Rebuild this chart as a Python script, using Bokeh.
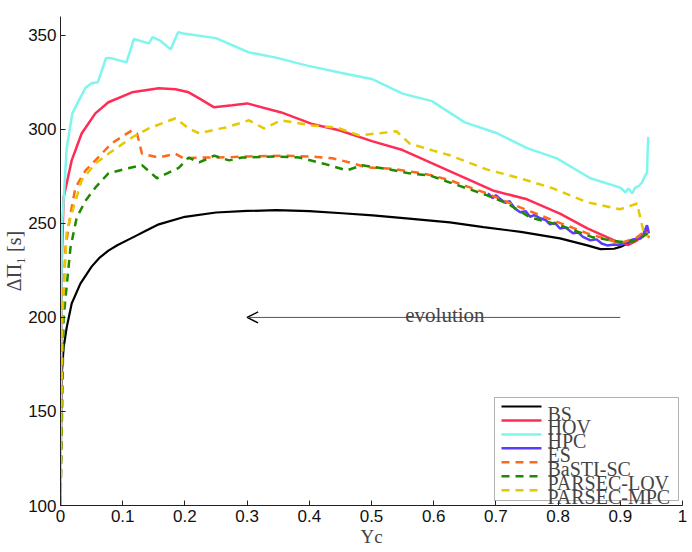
from bokeh.plotting import figure
from bokeh.models import Range1d, FixedTicker, Arrow, OpenHead, Label, BoxAnnotation
from bokeh.embed import file_html
from bokeh.resources import INLINE

# ---------------- data ----------------
bs_x = [0.0, 0.0016, 0.005, 0.010, 0.018, 0.032, 0.050, 0.062, 0.077, 0.092, 0.110, 0.122, 0.134,
        0.158, 0.200, 0.250, 0.300, 0.347, 0.400, 0.453, 0.502, 0.556, 0.626, 0.680, 0.740, 0.803,
        0.847, 0.868, 0.890, 0.900, 0.910, 0.918]
bs_y = [100, 168, 184, 194.7, 207.4, 218, 227, 231.5, 235.5, 238.5, 241.5, 243.5, 245.5,
        249.5, 253.5, 255.8, 256.6, 257, 256.5, 255.4, 254.3, 252.7, 250.5, 248, 245.5, 242,
        238.3, 236.3, 236.5, 237.5, 239, 241]

hov_x = [0.0, 0.002, 0.005, 0.018, 0.034, 0.056, 0.077, 0.115, 0.158, 0.185, 0.206, 0.223, 0.247,
         0.276, 0.300, 0.355, 0.403, 0.448, 0.502, 0.550, 0.577, 0.631, 0.695, 0.750, 0.803, 0.847,
         0.900, 0.913, 0.927, 0.937, 0.944]
hov_y = [100, 230, 263.8, 283.5, 297.8, 308.5, 314.4, 319.7, 321.8, 321.3, 319.7, 316.5, 311.7,
         312.8, 313.8, 309, 303, 299.5, 293.6, 289, 285, 277, 267.5, 262.8, 255.2, 247.3,
         239.5, 238.5, 241, 244, 247]

hpc_x = [0.0, 0.002, 0.010, 0.019, 0.029, 0.040, 0.050, 0.060, 0.073, 0.080, 0.106, 0.118, 0.142,
         0.148, 0.161, 0.177, 0.189, 0.198, 0.250, 0.302, 0.348, 0.395, 0.452, 0.502, 0.550, 0.597,
         0.650, 0.702, 0.750, 0.798, 0.852, 0.900, 0.905, 0.908, 0.913, 0.919, 0.924, 0.930, 0.935,
         0.940, 0.943, 0.944, 0.945]
hpc_y = [100, 246, 290, 308.5, 315, 322, 324.5, 325, 337.8, 338, 335.6, 348, 345.7,
         349, 347, 342.5, 351.6, 351, 348.5, 341, 338, 334, 330, 326.6, 319, 315,
         303.7, 297.9, 290, 284.6, 274, 269, 267.5, 266.5, 268.6, 266, 269, 270, 271.8,
         275.5, 277, 288.8, 296]

es_x = [0.687, 0.695, 0.700, 0.706, 0.715, 0.722, 0.730, 0.739, 0.748, 0.755, 0.762, 0.771, 0.780,
        0.787, 0.795, 0.803, 0.812, 0.824, 0.832, 0.840, 0.852, 0.862, 0.870, 0.879, 0.890, 0.900,
        0.910, 0.920, 0.933, 0.938, 0.943, 0.946]
es_y = [266, 263.5, 265, 263.3, 261, 261.8, 258, 255.9, 256.5, 253.5, 254.5, 252.7, 251.8,
        249.5, 250.3, 247.3, 247.8, 244.7, 245.2, 242.8, 241, 241.5, 239.3, 238.3, 238.8, 238.5,
        239.8, 241.5, 242, 245, 249, 244.7]

basti_x = [0.0, 0.003, 0.008, 0.016, 0.024, 0.040, 0.056, 0.082, 0.115, 0.123, 0.131, 0.158, 0.185,
           0.198, 0.223, 0.255, 0.303, 0.356, 0.400, 0.437, 0.465, 0.492, 0.534, 0.573, 0.598, 0.626,
           0.685, 0.739, 0.792, 0.847, 0.900, 0.927, 0.936, 0.947]
basti_y = [100, 200, 237, 255, 269, 278, 283.5, 292.5, 299.5, 297.8, 287, 285, 287,
           284.6, 285, 285, 285.6, 286, 285.6, 284.6, 282.4, 279.8, 279, 277, 275.5, 272.9,
           266, 258.5, 251.6, 244.7, 239.4, 242.6, 245, 242.5]

lov_x = [0.0, 0.005, 0.016, 0.026, 0.040, 0.056, 0.077, 0.105, 0.131, 0.155, 0.190, 0.206, 0.223,
         0.247, 0.271, 0.292, 0.347, 0.384, 0.427, 0.460, 0.485, 0.524, 0.561, 0.594, 0.621, 0.685,
         0.718, 0.755, 0.803, 0.856, 0.900, 0.920, 0.935, 0.944]
lov_y = [100, 200, 237, 253, 262, 269, 276.6, 279, 281, 274, 279.5, 285, 282.4,
         286, 283.5, 285, 285.6, 285, 281.4, 278.2, 280.9, 279, 276.6, 275.5, 272.3, 265,
         260.6, 253.2, 249, 242.6, 240.2, 240.4, 242.6, 244.7]

mpc_x = [0.0, 0.003, 0.010, 0.021, 0.034, 0.056, 0.077, 0.115, 0.142, 0.185, 0.206, 0.223, 0.250,
         0.266, 0.303, 0.327, 0.355, 0.405, 0.444, 0.480, 0.526, 0.540, 0.561, 0.598, 0.626, 0.685,
         0.739, 0.792, 0.847, 0.900, 0.927, 0.933, 0.937, 0.945]
mpc_y = [100, 200, 246, 258.5, 272.9, 281.9, 287, 295.7, 300.5, 305.9, 300.5, 297.8, 300,
         301, 304.8, 300.5, 304.8, 302, 301, 296.8, 298.4, 299, 292.5, 288.8, 286.2, 278.7,
         274, 268.6, 261.2, 257.5, 260.6, 251.6, 246.3, 243]

x_ticks = [0, 0.1, 0.2, 0.3, 0.4, 0.5, 0.6, 0.7, 0.8, 0.9, 1.0]
x_tick_labels = ["0", "0.1", "0.2", "0.3", "0.4", "0.5", "0.6", "0.7", "0.8", "0.9", "1"]
y_ticks = [100, 150, 200, 250, 300, 350]

series = [
    ("BS", bs_x, bs_y, "#000000", "solid", 2.2),
    ("HOV", hov_x, hov_y, "#ff2d55", "solid", 2.5),
    ("HPC", hpc_x, hpc_y, "#80f5ee", "solid", 2.5),
    ("ES", es_x, es_y, "#5b3cff", "solid", 2.5),
    ("BaSTI-SC", basti_x, basti_y, "#ff6a1a", "8 6", 2.5),
    ("PARSEC-LOV", lov_x, lov_y, "#1f8a00", "8 6", 2.5),
    ("PARSEC-MPC", mpc_x, mpc_y, "#e6c800", "8 6", 2.5),
]

SERIF = "Liberation Serif"
SANS = "Liberation Sans"

p = figure(frame_width=622, frame_height=489, output_backend="svg", toolbar_location=None,
           x_range=Range1d(0, 1), y_range=Range1d(100, 360),
           min_border_left=54, min_border_top=16, min_border_bottom=0, min_border_right=6)
p.outline_line_color = None
p.grid.visible = False
p.background_fill_color = "white"

for ax in (p.xaxis[0], p.yaxis[0]):
    ax.major_tick_in = 5
    ax.major_tick_out = 0
    ax.minor_tick_line_color = None
    ax.axis_line_color = "#222222"
    ax.major_tick_line_color = "#222222"
    ax.major_label_text_font = SANS
    ax.major_label_text_font_size = "17px"
    ax.major_label_text_color = "#111111"

p.xaxis.ticker = FixedTicker(ticks=x_ticks)
p.xaxis.major_label_overrides = {t: l for t, l in zip(x_ticks, x_tick_labels)}
p.xaxis.major_label_standoff = 4
p.xaxis.axis_label = "Yc"
p.xaxis.axis_label_text_font = SERIF
p.xaxis.axis_label_text_font_style = "normal"
p.xaxis.axis_label_text_font_size = "19px"
p.xaxis.axis_label_standoff = 1
p.yaxis.ticker = FixedTicker(ticks=y_ticks)
p.yaxis.major_label_standoff = 4
p.yaxis.axis_label = "ΔΠ₁ [s]"
p.yaxis.axis_label_text_font = SERIF
p.yaxis.axis_label_text_font_style = "normal"
p.yaxis.axis_label_text_font_size = "20px"
p.yaxis.axis_label_standoff = 0

for name, xs, ys, col, dash, lw in series:
    p.line(xs, ys, line_color=col, line_width=lw, line_dash=dash)

# ---- legend drawn with screen-unit annotations (compact MATLAB style) ----
leg_left, leg_right, leg_bottom, leg_top = 434, 618, 5, 108
p.add_layout(BoxAnnotation(left=leg_left, right=leg_right, bottom=leg_bottom, top=leg_top,
                           left_units="screen", right_units="screen",
                           bottom_units="screen", top_units="screen",
                           fill_color="white", fill_alpha=1.0,
                           line_color="#000000", line_width=1, level="overlay"))
row0, row_step = 99, 13.95
for i, (name, xs, ys, col, dash, lw) in enumerate(series):
    ry = row0 - i * row_step
    p.add_layout(Arrow(end=None, x_start=leg_left + 7, x_end=leg_left + 47, y_start=ry, y_end=ry,
                       start_units="screen", end_units="screen",
                       line_color=col, line_width=lw, line_dash=dash, level="overlay"))
    p.add_layout(Label(x=leg_left + 53, y=ry - 7, x_units="screen", y_units="screen", text=name,
                       text_align="left", text_baseline="alphabetic", text_font=SERIF,
                       text_font_size="20px", level="overlay"))

# evolution arrow
arrow_x0, arrow_x1, arrow_y = 0.9, 0.3, 200
p.add_layout(Arrow(end=OpenHead(size=11, line_width=1.5, line_color="#000000"),
                   x_start=arrow_x0, y_start=arrow_y, x_end=arrow_x1, y_end=arrow_y,
                   line_color="#555555", line_width=1))
p.add_layout(Label(x=0.618, y=arrow_y + 1.3, text="evolution", text_align="center",
                   text_baseline="alphabetic", text_font=SERIF, text_font_size="21px"))

open("out.html", "w").write(file_html(p, INLINE))
